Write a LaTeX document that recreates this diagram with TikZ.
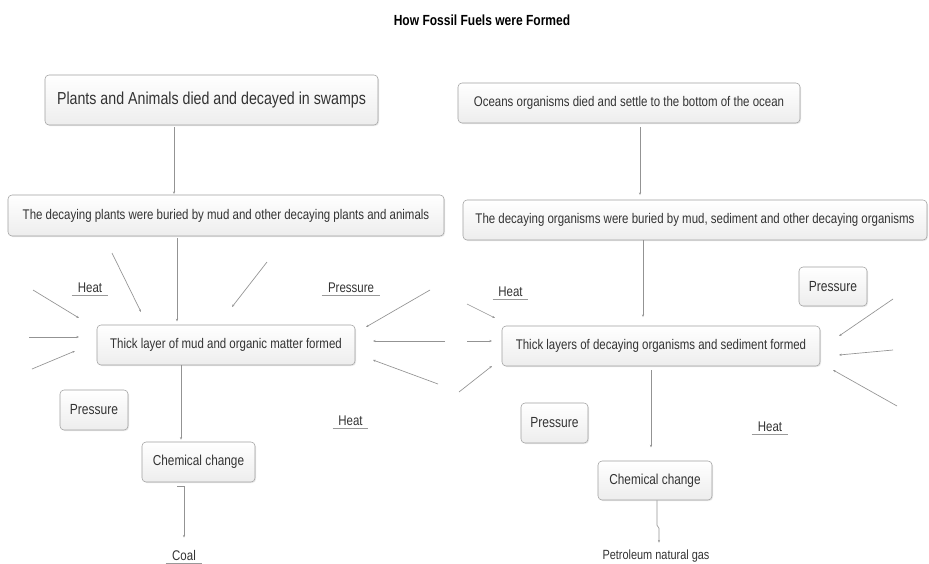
\documentclass[tikz,border=0pt]{standalone}
\usepackage{fontspec}
\setmainfont[FakeStretch=0.82]{Liberation Sans}
\usepackage{tikz}
\usetikzlibrary{arrows.meta, positioning, calc, shadows}

\begin{document}
\begin{tikzpicture}[
  x=0.75pt, y=-0.75pt,
  box/.style={rectangle, draw=gray!75, rounded corners=3pt, top color=white, bottom color=gray!14,
    drop shadow={opacity=0.18, shadow xshift=0.8pt, shadow yshift=-0.8pt},
    align=center, inner sep=2pt, text=black!80, font=\fontsize{10.5}{12}\selectfont},
  ulabel/.style={inner xsep=0pt, inner ysep=1.5pt, anchor=south, text=black!80, font=\fontsize{10.5}{12}\selectfont},
  link/.style={draw=gray!85, line width=0.5pt, -{Stealth[length=2pt, width=1.6pt]}},
  ray/.style={draw=gray!85, line width=0.5pt, -{Stealth[length=2pt, width=1.6pt]}},
  uline/.style={draw=gray!80, line width=0.6pt}
]
  \useasboundingbox (0,0) rectangle (929,564);

  \node[font=\bfseries\fontsize{11}{13}\selectfont] (title) at (482,20) {How Fossil Fuels were Formed};

  \node[box, minimum width=249.75pt, minimum height=37.5pt, font=\fontsize{13}{15}\selectfont] (plants) at (211.5,100) {Plants and Animals died and decayed in swamps};
  \node[box, minimum width=327pt, minimum height=30.75pt] (buried) at (226,215.5) {The decaying plants were buried by mud and other decaying plants and animals};
  \node[box, minimum width=193.5pt, minimum height=30pt] (mudlayer) at (226,345) {Thick layer of mud and organic matter formed};
  \node[box, minimum width=84.75pt, minimum height=30pt, font=\fontsize{10.8}{13}\selectfont] (chemcoal) at (198.5,462) {Chemical change};
  \node[box, minimum width=51pt, minimum height=30pt, font=\fontsize{11}{13}\selectfont] (presscoal) at (94,410) {Pressure};

  \node[box, minimum width=256.5pt, minimum height=30pt] (oceans) at (629,103) {Oceans organisms died and settle to the bottom of the ocean};
  \node[box, minimum width=348pt, minimum height=30pt] (sediment) at (695,220) {The decaying organisms were buried by mud, sediment and other decaying organisms};
  \node[box, minimum width=238.5pt, minimum height=30pt] (seabed) at (661,346) {Thick layers of decaying organisms and sediment formed};
  \node[box, minimum width=85.5pt, minimum height=29.25pt, font=\fontsize{10.8}{13}\selectfont] (chemoil) at (655,480.5) {Chemical change};
  \node[box, minimum width=51pt, minimum height=29.25pt, font=\fontsize{11}{13}\selectfont] (pressoilA) at (833,286.5) {Pressure};
  \node[box, minimum width=50.25pt, minimum height=30pt, font=\fontsize{11}{13}\selectfont] (pressoilB) at (554.5,423) {Pressure};

  \node[ulabel, minimum width=27pt] (heatcoalA) at (90,295) {Heat};
  \node[ulabel, minimum width=43.5pt] (presscoalA) at (351,295) {Pressure};
  \node[ulabel, minimum width=26.25pt] (heatcoalB) at (350.5,428) {Heat};
  \node[ulabel, minimum width=27pt] (coal) at (184,563) {Coal};
  \node[ulabel, minimum width=26.25pt] (heatoilA) at (510.5,299) {Heat};
  \node[ulabel, minimum width=27pt] (heatoilB) at (770,434) {Heat};
  \node[ulabel, anchor=north, font=\fontsize{10}{11}\selectfont] (petroleum) at (656,548) {Petroleum natural gas};

  \foreach \n in {heatcoalA, presscoalA, heatcoalB, coal, heatoilA, heatoilB}
    \draw[uline] (\n.south west) -- (\n.south east);

  \coordinate (xa) at (174,0);
  \coordinate (xb) at (177,0);
  \coordinate (xc) at (181,0);
  \coordinate (xe) at (640,0);
  \coordinate (xf) at (643,0);
  \coordinate (xg) at (651,0);

  \draw[link, shorten <=1.5pt, shorten >=0.5pt] (plants.south -| xa) -- (buried.north -| xa);
  \draw[link, shorten <=1.5pt, shorten >=2.5pt] (buried.south -| xb) -- (mudlayer.north -| xb);
  \draw[link, shorten >=1.5pt] (mudlayer.south -| xc) -- (chemcoal.north -| xc);
  \draw[link, shorten >=8pt] ([xshift=-16pt, yshift=-3pt]chemcoal.south) -| (coal.north);

  \draw[link, shorten <=3pt, shorten >=3.5pt] (oceans.south -| xe) -- (sediment.north -| xe);
  \draw[link, shorten >=6.5pt] (sediment.south -| xf) -- (seabed.north -| xf);
  \draw[link, shorten <=3pt, shorten >=10pt] (seabed.south -| xg) -- (chemoil.north -| xg);
  \draw[link] ([xshift=1.5pt]chemoil.south) -- ++(0,25) -- ++(2,3) -- ([xshift=2.25pt, yshift=4pt]petroleum.north);

  \foreach \x/\y/\u/\v [count=\i] in {33/290/79/318, 29/337/79/337, 32/369/75/351, 112/253/141/312,
      267/262/232/307, 430/290/366/327, 445/341/373/341, 438/384/373/360,
      467/304/495/318, 467/341/492/341, 459/392/492/366,
      893/299/839/336, 893/350/839/355, 897/406/833/370} {
    \coordinate (raystart\i) at (\x,\y);
    \coordinate (rayend\i) at (\u,\v);
    \draw[ray] (raystart\i) -- (rayend\i);
  }
\end{tikzpicture}
\end{document}
